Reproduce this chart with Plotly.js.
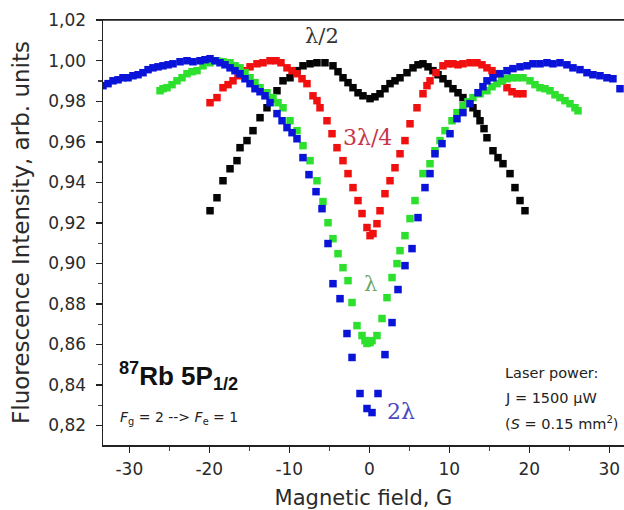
<!DOCTYPE html>
<html>
<head>
<meta charset="utf-8">
<script src="https://cdn.plot.ly/plotly-3.0.1.min.js"></script>
<style>html,body{margin:0;padding:0;background:#fff;}#chart{width:624px;height:510px;}</style>
</head>
<body>
<div id="chart"></div>
<script>
// λ/2 (black)
const halfX = [-19.91,-19.04,-18.29,-17.41,-16.54,-16.16,-15.29,-14.54,-13.66,-12.79,-12.16,-11.54,-10.79,-9.91,-9.04,-8.29,-7.41,-6.54,-5.54,-4.54,-3.91,-3.29,-2.66,-2.04,-1.41,-0.79,0.09,0.71,1.34,1.96,2.59,3.21,3.84,4.71,5.46,6.09,6.71,7.34,7.96,8.59,9.21,9.84,10.46,11.09,11.71,12.34,12.96,13.46,13.84,14.34,14.71,15.46,16.09,16.71,17.59,18.21,18.84,19.46];
const halfY = [0.926,0.9324,0.9408,0.9467,0.9507,0.9571,0.9606,0.9655,0.9719,0.9768,0.9813,0.9852,0.9901,0.9916,0.9951,0.9975,0.9985,0.999,0.999,0.9975,0.9946,0.9916,0.9892,0.9867,0.9842,0.9827,0.9813,0.9822,0.9837,0.9862,0.9887,0.9901,0.9916,0.9941,0.9965,0.998,0.9985,0.997,0.9951,0.9931,0.9911,0.9887,0.9862,0.9842,0.9818,0.9793,0.9768,0.9739,0.9704,0.9665,0.962,0.9556,0.9522,0.9492,0.9443,0.9374,0.931,0.926];
// 3λ/4 (red)
const q3X = [-19.91,-19.04,-18.29,-17.66,-17.04,-16.41,-15.79,-14.91,-14.04,-13.29,-12.41,-11.66,-11.04,-10.29,-9.66,-9.04,-8.41,-7.79,-7.04,-6.54,-6.16,-5.29,-4.66,-4.04,-3.29,-2.66,-2.04,-1.41,-0.91,-0.29,0.09,0.46,0.96,1.34,1.96,2.59,3.21,3.84,4.46,5.09,5.96,6.71,7.21,7.59,8.34,9.21,9.84,10.46,11.09,11.71,12.59,13.46,14.09,14.71,15.34,15.96,16.59,17.21,17.84,18.46,19.21];
const q3Y = [0.9793,0.9818,0.9867,0.9882,0.9901,0.9926,0.9951,0.997,0.9985,0.999,1.0,1.0,0.999,0.9965,0.9951,0.9936,0.9911,0.9887,0.9827,0.9803,0.9768,0.9704,0.964,0.9571,0.9507,0.9443,0.9374,0.931,0.9246,0.9177,0.9137,0.9147,0.9196,0.926,0.9344,0.9408,0.9472,0.9541,0.9606,0.9689,0.9768,0.9837,0.9877,0.9901,0.9941,0.9975,0.9985,0.9985,0.998,0.9985,0.999,0.999,0.998,0.9965,0.9951,0.9936,0.9901,0.9867,0.9847,0.9837,0.9837];
// λ (green)
const oneX = [-26.16,-25.79,-25.29,-24.66,-24.04,-23.41,-22.79,-22.16,-21.54,-20.79,-19.91,-19.04,-18.29,-17.41,-16.79,-16.16,-15.54,-14.91,-14.29,-13.66,-12.79,-12.04,-11.41,-10.79,-9.91,-9.04,-8.29,-7.41,-6.54,-5.79,-5.16,-4.54,-3.91,-3.29,-2.66,-2.16,-1.54,-0.91,-0.54,-0.29,0.09,0.34,0.96,1.59,2.21,2.84,3.46,3.84,4.46,5.09,5.71,6.71,7.59,8.21,8.84,9.46,10.34,10.96,11.71,12.34,12.96,13.84,14.71,15.34,15.96,16.59,17.21,17.84,18.46,19.21,20.09,20.71,21.34,21.96,22.59,23.21,23.84,24.46,25.09,25.71,26.09];
const oneY = [0.9852,0.9862,0.9867,0.9882,0.9901,0.9916,0.9936,0.9946,0.9951,0.9975,0.999,1.0,0.9995,0.999,0.9975,0.9965,0.9941,0.9916,0.9892,0.9867,0.9842,0.9818,0.9793,0.9768,0.9704,0.9655,0.9581,0.9507,0.9408,0.9305,0.9201,0.9122,0.9048,0.8979,0.8915,0.8807,0.8693,0.8644,0.8619,0.8605,0.8609,0.8619,0.8644,0.8728,0.8831,0.893,0.8999,0.9063,0.9137,0.9221,0.931,0.9443,0.9492,0.9556,0.9606,0.9655,0.9704,0.9744,0.9778,0.9798,0.9818,0.9837,0.9852,0.9872,0.9887,0.9901,0.9911,0.9916,0.9916,0.9916,0.9901,0.9882,0.9867,0.9862,0.9852,0.9832,0.9818,0.9803,0.9788,0.9768,0.9753];
// 2λ (blue)
const twoX = [-33.29,-32.66,-32.04,-31.41,-30.79,-30.16,-29.54,-28.91,-28.29,-27.66,-27.04,-26.41,-25.79,-25.16,-24.54,-23.66,-22.79,-22.04,-21.16,-20.54,-19.91,-19.29,-18.66,-18.04,-17.41,-16.79,-16.16,-15.54,-14.91,-14.29,-13.66,-13.04,-12.41,-11.54,-10.91,-10.29,-9.66,-9.04,-8.29,-7.54,-6.66,-5.91,-5.16,-4.54,-3.66,-2.79,-2.16,-1.16,-0.29,0.34,1.09,1.96,2.84,3.59,4.46,5.34,6.09,6.96,7.59,8.21,9.09,10.09,10.96,11.71,12.59,13.59,14.21,14.71,15.46,16.34,17.21,17.96,18.84,19.71,20.46,21.34,22.21,22.96,23.84,24.71,25.46,26.34,27.21,27.96,28.84,29.71,30.46,31.34];
const twoY = [0.9877,0.9887,0.9901,0.9906,0.9916,0.9916,0.9926,0.9931,0.9941,0.9956,0.9965,0.997,0.9975,0.998,0.9985,0.9995,1.0,0.9995,1.0,1.0005,1.001,1.0,0.999,0.998,0.9965,0.9951,0.9936,0.9911,0.9887,0.9862,0.9847,0.9827,0.9793,0.9739,0.9704,0.967,0.9645,0.9615,0.9522,0.9438,0.9354,0.927,0.9098,0.89,0.8826,0.8654,0.8536,0.8358,0.8284,0.8264,0.8358,0.855,0.8708,0.8871,0.8989,0.9073,0.9226,0.9374,0.9443,0.9541,0.9591,0.964,0.9714,0.9744,0.9788,0.9842,0.9872,0.9901,0.9916,0.9936,0.9951,0.9961,0.997,0.9975,0.9985,0.9985,0.999,0.9985,0.999,0.998,0.9965,0.9956,0.9941,0.9931,0.9926,0.9916,0.9911,0.9862];

const xTickVals = [-30,-20,-10,0,10,20,30];
const xTickText = ["-30","-20","-10","0","10","20","30"];
const yTickVals = [0.82,0.84,0.86,0.88,0.90,0.92,0.94,0.96,0.98,1.00,1.02];
const yTickText = ["0,82","0,84","0,86","0,88","0,90","0,92","0,94","0,96","0,98","1,00","1,02"];

function series(x, y, color) {
  return {x: x, y: y, type: 'scatter', mode: 'markers', cliponaxis: true,
    marker: {symbol: 'square', size: 7.5, color: color, line: {width: 0}}, hoverinfo: 'skip'};
}

const data = [
  series(halfX, halfY, '#050505'),
  series(q3X, q3Y, '#f01010'),
  series(oneX, oneY, '#2ee02e'),
  series(twoX, twoY, '#0a14d8')
];

const tickFont = {family: 'DejaVu Sans, sans-serif', size: 17, color: '#2a2a2a'};
const layout = {
  width: 624, height: 510,
  margin: {l: 103, r: 0, t: 20, b: 65, pad: 0},
  paper_bgcolor: '#ffffff', plot_bgcolor: '#ffffff',
  showlegend: false,
  xaxis: {
    range: [-33.29, 31.84], showgrid: false, zeroline: false,
    tickmode: 'array', tickvals: xTickVals, ticktext: xTickText,
    ticks: 'outside', ticklen: 6, tickwidth: 1.5, tickcolor: '#222',
    showline: true, linecolor: '#222', linewidth: 1.5, mirror: true,
    tickfont: tickFont, ticklabelstandoff: 2,
    minor: {ticks: 'outside', ticklen: 4, tickwidth: 1.2, tickcolor: '#444', dtick: 5, tick0: -35},
    title: {text: 'Magnetic field, G', font: {family: 'DejaVu Sans, sans-serif', size: 21, color: '#2a2a2a'}, standoff: 12}
  },
  yaxis: {
    range: [0.8104, 1.0201], showgrid: false, zeroline: false,
    tickmode: 'array', tickvals: yTickVals, ticktext: yTickText,
    ticks: 'outside', ticklen: 6, tickwidth: 1.5, tickcolor: '#222',
    showline: true, linecolor: '#222', linewidth: 1.5,
    tickfont: tickFont, ticklabelstandoff: 6,
    minor: {ticks: 'outside', ticklen: 4, tickwidth: 1.2, tickcolor: '#444', dtick: 0.01, tick0: 0.81},
    title: {text: 'Fluorescence Intensity, arb. units', font: {family: 'DejaVu Sans, sans-serif', size: 23, color: '#2a2a2a'}, standoff: 12}
  },
  shapes: [
    {type: 'line', xref: 'paper', yref: 'paper', x0: 0, x1: 1, y0: 1, y1: 1, line: {color: '#222', width: 1.5}}
  ],
  annotations: [
    {xref: 'x', yref: 'y', x: -5.9, y: 1.0123, text: 'λ/2', showarrow: false,
     font: {family: 'DejaVu Serif, serif', size: 21, color: '#333'}},
    {xref: 'x', yref: 'y', x: -0.2, y: 0.962, text: '3λ/4', showarrow: false,
     font: {family: 'DejaVu Serif, serif', size: 22, color: '#c8344c'}},
    {xref: 'x', yref: 'y', x: 0.1, y: 0.890, text: 'λ', showarrow: false,
     font: {family: 'DejaVu Serif, serif', size: 21, color: '#6aa86a'}},
    {xref: 'x', yref: 'y', x: 3.95, y: 0.827, text: '2λ', showarrow: false,
     font: {family: 'DejaVu Serif, serif', size: 22, color: '#4848c0'}},
    {xref: 'x', yref: 'y', x: -31.6, y: 0.8445, xanchor: 'left', text: '<b><sup>87</sup>Rb 5P<sub>1/2</sub></b>', showarrow: false,
     font: {family: 'Liberation Sans, Arial, sans-serif', size: 26, color: '#111'}},
    {xref: 'x', yref: 'y', x: -31.4, y: 0.8235, xanchor: 'left', text: '<i>F</i><sub>g</sub> = 2 --> <i>F</i><sub>e</sub> = 1', showarrow: false,
     font: {family: 'DejaVu Sans, sans-serif', size: 14, color: '#222'}},
    {xref: 'x', yref: 'y', x: 16.7, y: 0.8457, xanchor: 'left', text: 'Laser power:', showarrow: false,
     font: {family: 'DejaVu Sans, sans-serif', size: 14.5, color: '#222'}},
    {xref: 'x', yref: 'y', x: 16.7, y: 0.8338, xanchor: 'left', text: 'J = 1500 μW', showarrow: false,
     font: {family: 'DejaVu Sans, sans-serif', size: 14.5, color: '#222'}},
    {xref: 'x', yref: 'y', x: 16.7, y: 0.8215, xanchor: 'left', text: '(<i>S</i> = 0.15 mm<sup>2</sup>)', showarrow: false,
     font: {family: 'DejaVu Sans, sans-serif', size: 14.5, color: '#222'}}
  ]
};

Plotly.newPlot('chart', data, layout, {staticPlot: true, displayModeBar: false});
</script>
</body>
</html>
